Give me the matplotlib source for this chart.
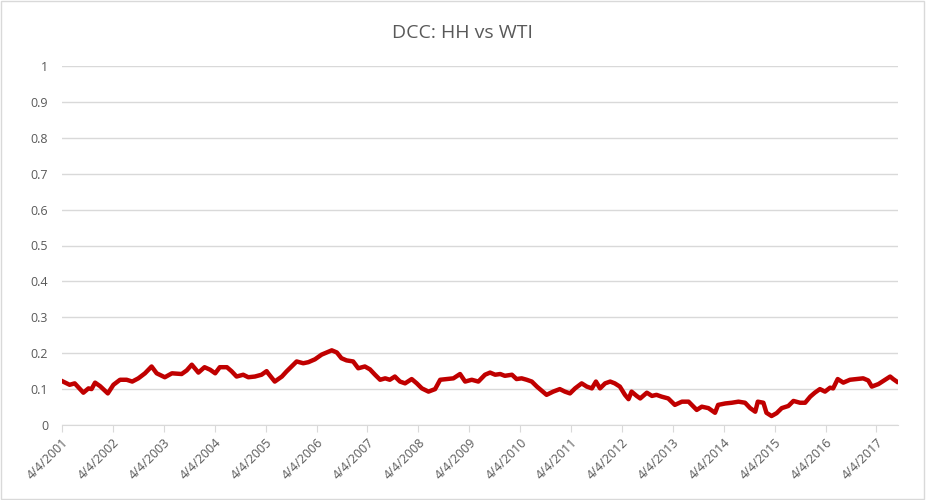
import matplotlib
matplotlib.use("Agg")
import matplotlib.pyplot as plt
from matplotlib.patches import Rectangle

# decimal years, with DCC values
years = [2001.28, 2001.41, 2001.51, 2001.68, 2001.78, 2001.84, 2001.91, 2002.01, 2002.16, 2002.27,
         2002.40, 2002.53, 2002.64, 2002.76, 2002.89, 2003.02, 2003.12, 2003.28, 2003.42, 2003.61,
         2003.71, 2003.81, 2003.94, 2004.06, 2004.17, 2004.27, 2004.36, 2004.50, 2004.59, 2004.69,
         2004.82, 2004.92, 2005.05, 2005.18, 2005.28, 2005.31, 2005.44, 2005.58, 2005.67, 2005.77,
         2005.87, 2006.00, 2006.10, 2006.23, 2006.36, 2006.46, 2006.56, 2006.66, 2006.75, 2006.85,
         2006.98, 2007.08, 2007.21, 2007.31, 2007.41, 2007.51, 2007.61, 2007.70, 2007.80, 2007.90,
         2008.00, 2008.13, 2008.23, 2008.33, 2008.46, 2008.59, 2008.69, 2008.82, 2008.95, 2009.08,
         2009.18, 2009.31, 2009.44, 2009.57, 2009.67, 2009.77, 2009.87, 2009.96, 2010.10, 2010.19,
         2010.29, 2010.39, 2010.49, 2010.59, 2010.68, 2010.78, 2010.91, 2011.04, 2011.14, 2011.24,
         2011.34, 2011.47, 2011.57, 2011.67, 2011.75, 2011.83, 2011.93, 2012.03, 2012.12, 2012.22,
         2012.32, 2012.39, 2012.45, 2012.55, 2012.62, 2012.75, 2012.85, 2012.94, 2013.04, 2013.17,
         2013.30, 2013.44, 2013.57, 2013.73, 2013.83, 2013.96, 2014.09, 2014.15, 2014.29, 2014.42,
         2014.55, 2014.68, 2014.78, 2014.88, 2014.93, 2015.04, 2015.10, 2015.20, 2015.30, 2015.40,
         2015.53, 2015.63, 2015.76, 2015.86, 2015.96, 2016.05, 2016.15, 2016.25, 2016.35, 2016.41,
         2016.50, 2016.61, 2016.74, 2016.87, 2017.00, 2017.10, 2017.17, 2017.30, 2017.43, 2017.53,
         2017.59, 2017.66]
dcc = [0.121, 0.112, 0.116, 0.090, 0.102, 0.100, 0.118, 0.108, 0.088, 0.112,
       0.126, 0.126, 0.121, 0.130, 0.144, 0.163, 0.144, 0.133, 0.144, 0.142,
       0.152, 0.168, 0.146, 0.161, 0.154, 0.144, 0.161, 0.161, 0.150, 0.135,
       0.140, 0.133, 0.135, 0.140, 0.150, 0.144, 0.121, 0.135, 0.149, 0.163,
       0.177, 0.172, 0.175, 0.183, 0.196, 0.202, 0.208, 0.202, 0.186, 0.180,
       0.177, 0.158, 0.163, 0.155, 0.140, 0.126, 0.130, 0.126, 0.135, 0.121,
       0.116, 0.128, 0.116, 0.102, 0.093, 0.100, 0.126, 0.128, 0.130, 0.142,
       0.121, 0.126, 0.121, 0.140, 0.146, 0.140, 0.142, 0.137, 0.140, 0.128,
       0.130, 0.126, 0.121, 0.107, 0.096, 0.084, 0.093, 0.100, 0.093, 0.088,
       0.102, 0.116, 0.107, 0.102, 0.121, 0.102, 0.116, 0.121, 0.116, 0.107,
       0.084, 0.072, 0.093, 0.081, 0.074, 0.090, 0.081, 0.084, 0.079, 0.074,
       0.056, 0.065, 0.065, 0.042, 0.051, 0.047, 0.034, 0.056, 0.060, 0.062,
       0.065, 0.062, 0.047, 0.037, 0.065, 0.062, 0.034, 0.025, 0.033, 0.047,
       0.053, 0.067, 0.062, 0.062, 0.079, 0.090, 0.100, 0.093, 0.104, 0.102,
       0.128, 0.118, 0.126, 0.128, 0.130, 0.124, 0.107, 0.114, 0.126, 0.135,
       0.128, 0.121]

tick_years = list(range(2001, 2018))
tick_labels = ["4/4/%d" % y for y in tick_years]
y_ticks = [0, 0.1, 0.2, 0.3, 0.4, 0.5, 0.6, 0.7, 0.8, 0.9, 1]
y_labels = ["0", "0.1", "0.2", "0.3", "0.4", "0.5", "0.6", "0.7", "0.8", "0.9", "1"]

plt.rcParams['font.family'] = ['Open Sans', 'DejaVu Sans']
grey = '#595959'
grid = '#D9D9D9'

fig = plt.figure(figsize=(9.26, 5), dpi=100)
ax = fig.add_axes([62 / 926, 75 / 500, 836 / 926, 359 / 500])

ax.plot(years, dcc, color='#C00000', linewidth=3.2, solid_joinstyle='round')

x0 = 2001.26
ax.set_xlim(x0, x0 + 836 / 50.9)
ax.set_ylim(0, 1)

ax.set_xticks([y + 0.26 for y in tick_years])
ax.set_xticklabels(tick_labels, rotation=45, ha='right', rotation_mode='anchor',
                   fontsize=9, color=grey)
ax.set_yticks(y_ticks)
ax.set_yticklabels(y_labels, fontsize=9, color=grey)
ax.tick_params(axis='y', length=0, pad=10)
ax.tick_params(axis='x', length=5, color=grid, pad=3)

ax.grid(axis='y', color=grid, linewidth=1)
ax.set_axisbelow(True)
for side in ['top', 'right', 'left']:
    ax.spines[side].set_visible(False)
ax.spines['bottom'].set_color(grid)

fig.text(0.5, 0.935, "DCC: HH vs WTI", ha='center', va='center', fontsize=14, color=grey)
fig.patches.append(Rectangle((0.001, 0.002), 0.997, 0.996, transform=fig.transFigure,
                             fill=False, edgecolor=grid, linewidth=1))

fig.savefig("out.png", dpi=100)
